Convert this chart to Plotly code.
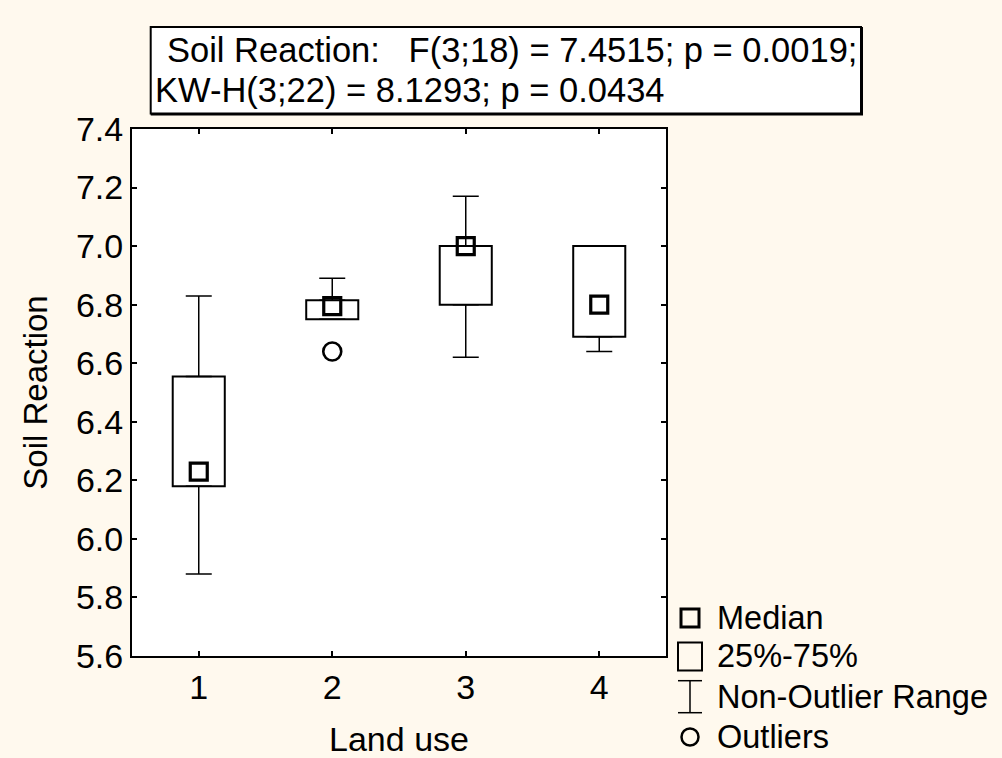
import plotly.graph_objects as go

# ---- data ----
land_use = [1, 2, 3, 4]
q1 = [6.18, 6.75, 6.80, 6.69]
q3 = [6.555, 6.815, 7.00, 7.00]
median = [6.23, 6.795, 7.00, 6.80]
whisk_lo = [5.88, 6.75, 6.62, 6.64]
whisk_hi = [6.83, 6.89, 7.17, 7.00]
outlier_x = [2]
outlier_y = [6.64]
tick_vals = [1, 2, 3, 4]
tick_text = ["1", "2", "3", "4"]
y_ticks = [5.6, 5.8, 6.0, 6.2, 6.4, 6.6, 6.8, 7.0, 7.2, 7.4]
title_line1 = "Soil Reaction:   F(3;18) = 7.4515; p = 0.0019;"
title_line2 = "KW-H(3;22) = 8.1293; p = 0.0434"
legend_labels = ["Median", "25%-75%", "Non-Outlier Range", "Outliers"]

FONT = "Liberation Sans, Arial, sans-serif"
BG = "#FFF9EE"

# plot-area pixel geometry (for paper conversions of decorations)
L, R, T, B = 132, 666, 129, 656
W, H = R - L, B - T
def px(x):
    return (x - L) / W
def py(y):
    return (B - y) / H

fig = go.Figure()

# boxes (25%-75%)
fig.add_trace(go.Bar(
    x=land_use, y=[b - a for a, b in zip(q1, q3)], base=q1, width=0.39,
    marker=dict(color="white", line=dict(color="black", width=2)),
    showlegend=False, hoverinfo="skip"))

# upper whiskers
fig.add_trace(go.Scatter(
    x=land_use, y=q3, mode="markers",
    marker=dict(color="rgba(0,0,0,0)", size=1),
    error_y=dict(type="data", symmetric=False,
                 array=[h - q for h, q in zip(whisk_hi, q3)],
                 arrayminus=[0] * len(q3),
                 width=13, thickness=1.5, color="black"),
    showlegend=False, hoverinfo="skip"))
# lower whiskers
fig.add_trace(go.Scatter(
    x=land_use, y=q1, mode="markers",
    marker=dict(color="rgba(0,0,0,0)", size=1),
    error_y=dict(type="data", symmetric=False,
                 array=[0] * len(q1),
                 arrayminus=[q - l for q, l in zip(q1, whisk_lo)],
                 width=13, thickness=1.5, color="black"),
    showlegend=False, hoverinfo="skip"))

# medians
fig.add_trace(go.Scatter(
    x=land_use, y=median, mode="markers",
    marker=dict(symbol="square-open", size=17, color="black",
                line=dict(color="black", width=3.2)),
    showlegend=False))

# outliers
fig.add_trace(go.Scatter(
    x=outlier_x, y=outlier_y, mode="markers",
    marker=dict(symbol="circle-open", size=18, color="black",
                line=dict(color="black", width=2.6)),
    showlegend=False))

axis_common = dict(showline=True, linecolor="black", linewidth=2, mirror="ticks",
                   ticks="inside", ticklen=5, tickwidth=1.5, tickcolor="black",
                   showgrid=False, zeroline=False, automargin=False,
                   tickfont=dict(family=FONT, size=34, color="black"))

fig.update_xaxes(range=[0.5, 4.5], tickvals=tick_vals, ticktext=tick_text,
                 title=dict(text="Land use", font=dict(family=FONT, size=34, color="black"),
                            standoff=22),
                 **axis_common)
fig.update_yaxes(range=[5.6, 7.4], tickvals=y_ticks,
                 ticktext=[f"{v:.1f}" for v in y_ticks],
                 title=dict(text="Soil Reaction", font=dict(family=FONT, size=33, color="black"),
                            standoff=18),
                 **axis_common)

shapes = []
# header box with heavier right/bottom edge
shapes.append(dict(type="rect", xref="paper", yref="paper",
                   x0=px(150.7), x1=px(861), y0=py(113.5), y1=py(27),
                   line=dict(color="black", width=2), fillcolor="white", layer="below"))
shapes.append(dict(type="line", xref="paper", yref="paper",
                   x0=px(862), x1=px(862), y0=py(115), y1=py(27),
                   line=dict(color="black", width=2)))
shapes.append(dict(type="line", xref="paper", yref="paper",
                   x0=px(150.7), x1=px(863), y0=py(114.5), y1=py(114.5),
                   line=dict(color="black", width=2)))

# legend glyphs
lx = px(690)
def pshape(kind, yc, x0, x1, y0, y1, width):
    return dict(type=kind, xref="paper", yref="paper",
                xsizemode="pixel", ysizemode="pixel",
                xanchor=lx, yanchor=py(yc),
                x0=x0, x1=x1, y0=y0, y1=y1,
                line=dict(color="black", width=width))
shapes.append(pshape("rect", 618, -9, 9, -9, 9, 3))
shapes.append(pshape("rect", 656.5, -12, 12, -14, 14, 2))
shapes.append(pshape("line", 696.7, 0, 0, -16, 16, 1.5))
shapes.append(pshape("line", 696.7, -12, 12, 16, 16, 1.5))
shapes.append(pshape("line", 696.7, -12, 12, -16, -16, 1.5))
shapes.append(pshape("circle", 737, -8.5, 8.5, -8.5, 8.5, 2.5))

annotations = []
annotations.append(dict(text=title_line1, xref="paper", yref="paper",
                        x=px(165), y=py(50), xanchor="left", yanchor="middle",
                        showarrow=False, font=dict(family=FONT, size=34.5, color="black")))
annotations.append(dict(text=title_line2, xref="paper", yref="paper",
                        x=px(153), y=py(90), xanchor="left", yanchor="middle",
                        showarrow=False, font=dict(family=FONT, size=34.5, color="black")))
for lab, yc in zip(legend_labels, [618, 656, 697, 737]):
    annotations.append(dict(text=lab, xref="paper", yref="paper",
                            x=px(715), y=py(yc), xanchor="left", yanchor="middle",
                            showarrow=False, font=dict(family=FONT, size=32.5, color="black")))

fig.update_layout(
    width=1002, height=758,
    margin=dict(l=L, r=1002 - R, t=T, b=758 - B, pad=0, autoexpand=False),
    paper_bgcolor=BG, plot_bgcolor="white",
    showlegend=False, barmode="overlay",
    shapes=shapes, annotations=annotations,
    font=dict(family=FONT, size=32, color="black"),
)

fig.write_html("out.html")
